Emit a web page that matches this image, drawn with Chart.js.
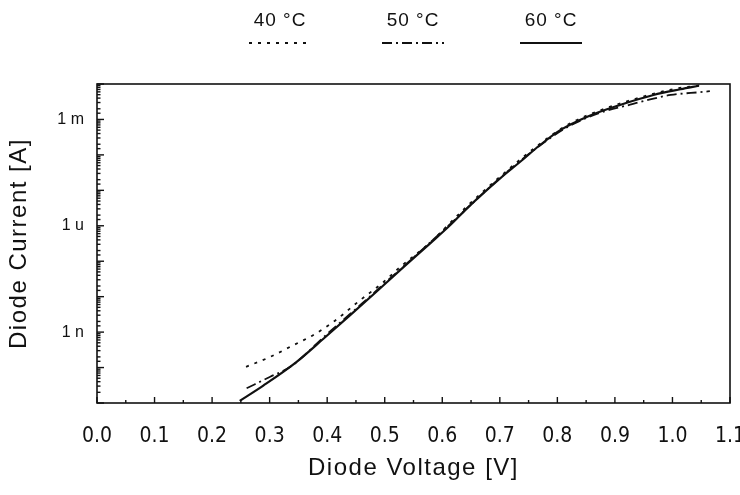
<!DOCTYPE html>
<html>
<head>
<meta charset="utf-8">
<script src="https://cdn.jsdelivr.net/npm/chart.js@4/dist/chart.umd.min.js"></script>
<style>
html,body{margin:0;padding:0;background:#fff;}
canvas{display:block;}
</style>
</head>
<body>
<canvas id="c" width="740" height="495"></canvas>
<script>
// ---- data ----
const seriesLabels = ['40 \u00B0C', '50 \u00B0C', '60 \u00B0C'];

const v40 = [0.259, 0.301, 0.339, 0.376, 0.411, 0.454, 0.498, 0.527, 0.58, 0.64, 0.70, 0.76, 0.82, 0.88, 0.94, 1.0, 1.05];
const i40 = [1.05e-10, 2.0e-10, 4.1e-10, 8.3e-10, 1.95e-9, 7.2e-9, 2.6e-8, 6.9e-8, 3.5e-7, 3.2e-6, 2.4e-5, 1.55e-4, 7.4e-4, 1.95e-3, 4.0e-3, 7.1e-3, 9.3e-3];

const v50 = [0.26, 0.301, 0.336, 0.40, 0.46, 0.52, 0.58, 0.64, 0.70, 0.76, 0.82, 0.88, 0.93, 0.956, 0.997, 1.054, 1.065];
const i50 = [2.6e-11, 5.5e-11, 1.05e-10, 8.9e-10, 6.3e-9, 4.7e-8, 3.5e-7, 2.8e-6, 2.2e-5, 1.4e-4, 6.4e-4, 1.65e-3, 2.7e-3, 3.5e-3, 4.9e-3, 6.0e-3, 6.3e-3];

const v60 = [0.248, 0.289, 0.347, 0.394, 0.44, 0.486, 0.533, 0.579, 0.614, 0.643, 0.701, 0.736, 0.770, 0.805, 0.852, 0.910, 0.967, 1.014, 1.046];
const i60 = [1.15e-11, 3.1e-11, 1.45e-10, 6.6e-10, 3.0e-9, 1.4e-8, 6.9e-8, 3.2e-7, 1.05e-6, 3.1e-6, 2.2e-5, 6.5e-5, 1.9e-4, 5.0e-4, 1.2e-3, 2.6e-3, 4.9e-3, 7.1e-3, 8.9e-3];

const xTickValues = [0.0, 0.1, 0.2, 0.3, 0.4, 0.5, 0.6, 0.7, 0.8, 0.9, 1.0, 1.1];
const yTickValues = [1e-9, 1e-6, 1e-3];
const yTickLabels = ['1 n', '1 u', '1 m'];
const xTitle = 'Diode Voltage [V]';
const yTitle = 'Diode Current [A]';

function pts(xs, ys) { return xs.map((x, k) => ({x: x, y: ys[k]})); }

const INK = '#111';

const decor = {
  id: 'decor',
  afterDraw(chart) {
    const ctx = chart.ctx;
    const a = chart.chartArea;
    const xs = chart.scales.x, ys = chart.scales.y;
    ctx.save();
    // frame
    ctx.strokeStyle = INK;
    ctx.lineWidth = 1.6;
    ctx.strokeRect(a.left, a.top, a.right - a.left, a.bottom - a.top);
    // y ticks (inward)
    ctx.lineWidth = 1.4;
    ys.ticks.forEach(t => {
      const v = t.value;
      const lg = Math.log10(v);
      const major = Math.abs(lg - Math.round(lg)) < 1e-6;
      const p = ys.getPixelForValue(v);
      ctx.beginPath();
      ctx.moveTo(a.left, p);
      ctx.lineTo(a.left + (major ? 7 : 3.5), p);
      ctx.stroke();
    });
    // x ticks (inward)
    xs.ticks.forEach(t => {
      const v = t.value;
      const major = Math.abs(v * 10 - Math.round(v * 10)) < 1e-6;
      const p = xs.getPixelForValue(v);
      ctx.beginPath();
      ctx.moveTo(p, a.bottom);
      ctx.lineTo(p, a.bottom - (major ? 6 : 3));
      ctx.stroke();
    });
    // tick labels
    ctx.fillStyle = INK;
    ctx.font = '21px "Liberation Sans Narrow", "DejaVu Sans Condensed", sans-serif';
    ctx.textAlign = 'center';
    ctx.textBaseline = 'middle';
    xTickValues.forEach(v => {
      ctx.fillText(v.toFixed(1), xs.getPixelForValue(v), 437);
    });
    ctx.font = '16px "Liberation Sans", sans-serif';
    ctx.textAlign = 'right';
    yTickValues.forEach((v, k) => {
      ctx.fillText(yTickLabels[k], 84, ys.getPixelForValue(v));
    });
    // axis titles
    ctx.font = '24px "Liberation Sans", sans-serif';
    ctx.letterSpacing = '1.5px';
    ctx.textAlign = 'center';
    ctx.fillText(xTitle, (a.left + a.right) / 2, 468);
    ctx.save();
    ctx.translate(19, (a.top + a.bottom) / 2);
    ctx.rotate(-Math.PI / 2);
    ctx.fillText(yTitle, 0, 0);
    ctx.restore();
    // legend
    ctx.letterSpacing = '1px';
    ctx.font = '19px "Liberation Sans", sans-serif';
    const centers = [280, 413, 551];
    chart.data.datasets.forEach((ds, k) => {
      const cx = centers[k];
      ctx.fillStyle = INK;
      ctx.textAlign = 'center';
      ctx.fillText(ds.label, cx, 21);
      ctx.strokeStyle = INK;
      ctx.lineWidth = ds.borderWidth;
      ctx.setLineDash(ds.borderDash || []);
      ctx.beginPath();
      ctx.moveTo(cx - 31, 43);
      ctx.lineTo(cx + 31, 43);
      ctx.stroke();
      ctx.setLineDash([]);
    });
    ctx.restore();
  }
};

new Chart(document.getElementById('c'), {
  type: 'line',
  data: {
    datasets: [
      { label: seriesLabels[0], data: pts(v40, i40), borderColor: INK, borderWidth: 1.8, borderDash: [3, 6], pointRadius: 0, fill: false, cubicInterpolationMode: 'monotone' },
      { label: seriesLabels[1], data: pts(v50, i50), borderColor: INK, borderWidth: 1.8, borderDash: [10, 4, 2, 4], pointRadius: 0, fill: false, cubicInterpolationMode: 'monotone' },
      { label: seriesLabels[2], data: pts(v60, i60), borderColor: INK, borderWidth: 2.2, pointRadius: 0, fill: false, cubicInterpolationMode: 'monotone' }
    ]
  },
  options: {
    responsive: false,
    animation: false,
    layout: { padding: { left: 97, right: 10, top: 84, bottom: 92 } },
    plugins: { legend: { display: false }, tooltip: { enabled: false } },
    scales: {
      x: {
        type: 'linear', min: 0, max: 1.1,
        ticks: { display: false, stepSize: 0.05 },
        grid: { display: false }, border: { display: false },
        afterFit: s => { s.height = 0; }
      },
      y: {
        type: 'logarithmic', min: 1e-11, max: 1e-2,
        ticks: { display: false },
        grid: { display: false }, border: { display: false },
        afterFit: s => { s.width = 0; }
      }
    }
  },
  plugins: [decor]
});
</script>
</body>
</html>
